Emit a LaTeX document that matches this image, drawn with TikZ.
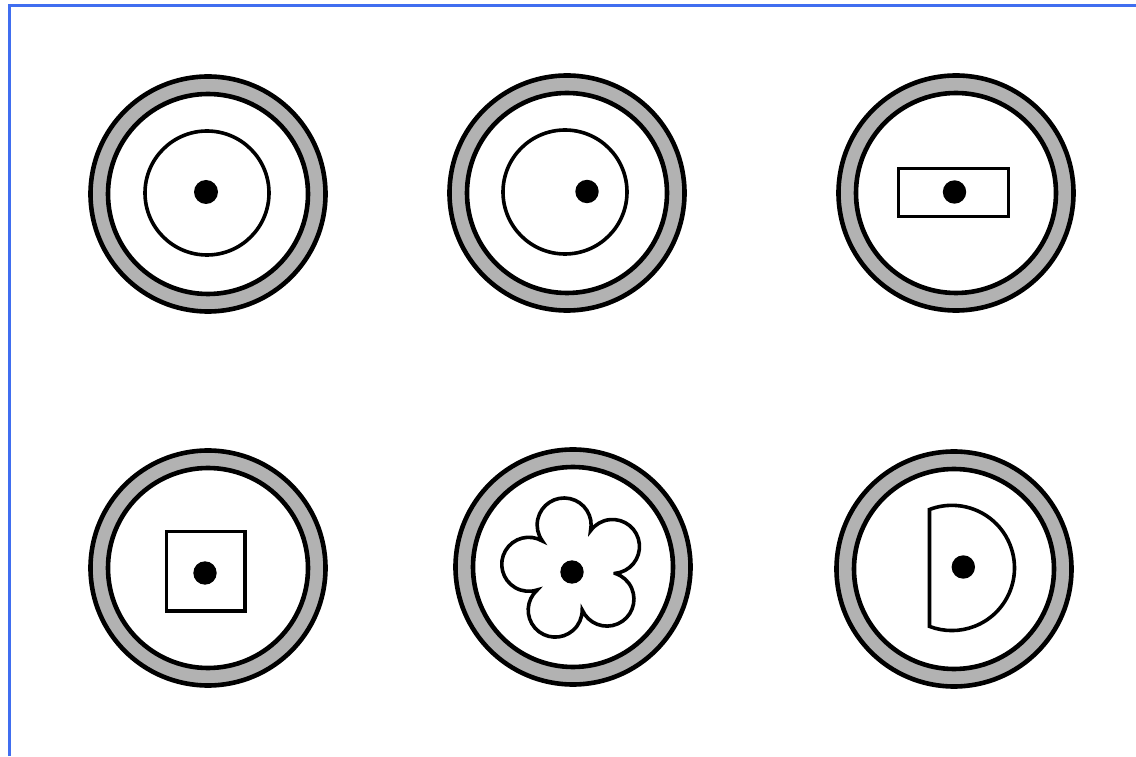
\documentclass[tikz,border=0pt]{standalone}
\begin{document}
\definecolor{framecol}{RGB}{64,110,240}
\definecolor{bandgray}{RGB}{178,178,178}
\begin{tikzpicture}[x=1pt,y=1pt,
  ringline/.style={line width=4.6pt,draw=black},
  shapeline/.style={line width=3.6pt,draw=black,fill=white,line join=miter},
  dotfill/.style={fill=black}]
\useasboundingbox (0,0) rectangle (1136,756);
\fill[white] (0,0) rectangle (1136,756);
\draw[framecol,line width=3.4pt] (9.5,0) -- (9.5,750.5) -- (1136,750.5);
% rings
\foreach \cx/\cy in {208/562, 567/563, 956/563, 208/188, 573/189, 954/187}{
  \fill[bandgray,even odd rule] (\cx,\cy) circle[radius=117.5] (\cx,\cy) circle[radius=100];
  \draw[ringline] (\cx,\cy) circle[radius=117.5];
  \draw[ringline,fill=white] (\cx,\cy) circle[radius=100];
}
% 1: concentric circle
\draw[shapeline] (207,563) circle[radius=62];
\fill[dotfill] (206,564) circle[radius=12];
% 2: circle with offset dot
\draw[shapeline] (565,564) circle[radius=62];
\fill[dotfill] (587,564.5) circle[radius=11.7];
% 3: rectangle
\draw[shapeline] (898.5,539.5) rectangle (1008.5,587.5);
\fill[dotfill] (954.5,564) circle[radius=11.7];
% 4: square
\draw[shapeline] (166.5,145) rectangle (245,224.5);
\fill[dotfill] (205,183) circle[radius=11.7];
% 5: flower
\draw[shapeline,shift={(573.5,187)}] (-6:41.83)
  arc[start angle=-84.41, end angle=144.41, radius=27]
  arc[start angle=-12.41, end angle=216.41, radius=27]
  arc[start angle=59.59, end angle=288.41, radius=27]
  arc[start angle=131.59, end angle=360.41, radius=27]
  arc[start angle=203.59, end angle=432.41, radius=27] -- cycle;
\fill[dotfill] (572,184) circle[radius=11.7];
% 6: D shape
\draw[shapeline] (929.5,246.5) arc[start angle=110.95, end angle=-110.95, radius=62.6] -- cycle;
\fill[dotfill] (963.3,189) circle[radius=11.7];
\end{tikzpicture}
\end{document}
